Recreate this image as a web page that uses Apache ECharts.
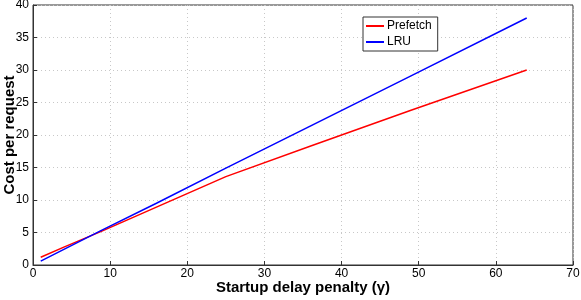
<!DOCTYPE html>
<html><head><meta charset="utf-8">
<script src="https://cdn.jsdelivr.net/npm/echarts@6/dist/echarts.min.js"></script>
<style>html,body{margin:0;padding:0;background:#fff}#c{width:581px;height:300px}</style>
</head><body><div id="c"></div>
<script>
var gammaValues = [1, 4, 9, 16, 25, 36, 49, 64];
var prefetchCost = [1.2, 2.75, 5.25, 8.9, 13.6, 18.3, 23.8, 30.0];
var lruCost = [0.6, 2.4, 5.4, 9.5, 14.9, 21.4, 29.1, 38.0];
var seriesNames = ['Prefetch', 'LRU'];
var xTitle = 'Startup delay penalty (\u03b3)';
var yTitle = 'Cost per request';

function pairs(xs, ys){ return xs.map(function(x,i){ return [x, ys[i]]; }); }
var font = 'Liberation Sans, Arial, Helvetica, sans-serif';
var chart = echarts.init(document.getElementById('c'), null, {renderer:'canvas'});
chart.setOption({
  animation:false,
  backgroundColor:'#fff',
  grid:{left:33, right:8, top:5, bottom:35, show:true, borderColor:'#333', borderWidth:1,
        containLabel:false, outerBoundsMode:'none'},
  legend:{
    data:seriesNames, orient:'vertical', left:363, top:17,
    itemWidth:18, itemHeight:2, itemGap:4,
    padding:[3,6,3,3],
    borderColor:'#333', borderWidth:1, backgroundColor:'#fff',
    icon:'rect',
    textStyle:{fontFamily:font, fontSize:12, color:'#000', padding:[0,0,0,-2]}
  },
  xAxis:{
    type:'value', min:0, max:70, interval:10,
    name:xTitle, nameLocation:'middle', nameGap:15, nameMoveOverlap:false,
    nameTextStyle:{fontFamily:font, fontSize:15, fontWeight:'bold', color:'#000'},
    axisLine:{show:true, lineStyle:{color:'#333'}},
    axisTick:{show:true, inside:true, length:4, lineStyle:{color:'#333'}},
    axisLabel:{fontFamily:font, fontSize:12, color:'#000', margin:3},
    splitLine:{show:true, lineStyle:{color:'#c8c8c8', type:[1,3]}}
  },
  yAxis:{
    type:'value', min:0, max:40, interval:5,
    name:yTitle, nameLocation:'middle', nameGap:16, nameMoveOverlap:false,
    nameTextStyle:{fontFamily:font, fontSize:15, fontWeight:'bold', color:'#000'},
    axisLine:{show:true, lineStyle:{color:'#333'}},
    axisTick:{show:true, inside:true, length:4, lineStyle:{color:'#333'}},
    axisLabel:{fontFamily:font, fontSize:12, color:'#000', margin:4},
    splitLine:{show:true, lineStyle:{color:'#c8c8c8', type:[1,3]}}
  },
  series:[
    {name:seriesNames[0], type:'line', data:pairs(gammaValues, prefetchCost), showSymbol:false, symbol:'none',
     lineStyle:{color:'#ff0000', width:1.5}, itemStyle:{color:'#ff0000'}},
    {name:seriesNames[1], type:'line', data:pairs(gammaValues, lruCost), showSymbol:false, symbol:'none',
     lineStyle:{color:'#0000ff', width:1.5}, itemStyle:{color:'#0000ff'}}
  ]
});
</script></body></html>
